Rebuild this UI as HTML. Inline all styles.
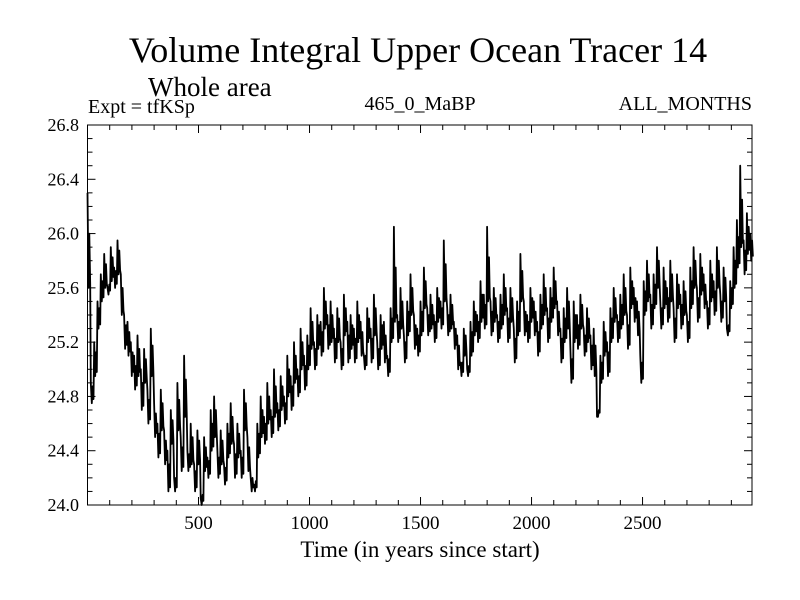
<!DOCTYPE html>
<html><head><meta charset="utf-8"><style>
body{margin:0;background:#fff}
svg{display:block;font-family:"Liberation Serif",serif}
</style></head><body>
<svg id="chart" width="800" height="600" viewBox="0 0 800 600">
<text x="418" y="62" font-size="36" text-anchor="middle">Volume Integral Upper Ocean Tracer 14</text>
<text x="148" y="96" font-size="27">Whole area</text>
<text x="88" y="113" font-size="20">Expt = tfKSp</text>
<text x="420" y="110" font-size="20" text-anchor="middle">465_0_MaBP</text>
<text x="752" y="110" font-size="20" text-anchor="end">ALL_MONTHS</text>
<text x="420" y="557" font-size="23" text-anchor="middle">Time (in years since start)</text>
<g id="axes"></g>
<path id="series" fill="none" stroke="#000" stroke-width="1.8" stroke-linejoin="round"/>
<rect x="87.5" y="125" width="664.5" height="380" fill="none" stroke="#000" stroke-width="1"/>
</svg>
<script>
const yTicks=[24.0,24.4,24.8,25.2,25.6,26.0,26.4,26.8];
const xTicks=[500,1000,1500,2000,2500];
const step=15;
const values=[
26.3,24.9,25.2,25.5,25.7,25.85,25.6,25.9,25.75,25.95,
25.7,25.4,25.35,25.2,25.1,25.25,25.0,25.15,24.85,25.3,
24.75,24.6,24.85,24.55,24.4,24.7,24.2,24.9,24.5,25.1,
24.4,24.6,24.3,24.55,24.05,24.5,24.35,24.7,24.8,24.4,
24.55,24.3,24.6,24.75,24.45,24.6,24.4,24.85,24.5,24.2,
24.15,24.6,24.8,24.65,24.9,24.7,25.0,24.75,24.95,24.8,
25.1,24.95,25.2,25.0,25.3,25.1,25.25,25.45,25.2,25.4,
25.35,25.6,25.4,25.5,25.3,25.45,25.2,25.55,25.35,25.4,
25.3,25.5,25.35,25.1,25.45,25.3,25.55,25.2,25.4,25.35,
25.1,25.45,26.05,25.4,25.6,25.25,25.5,25.7,25.4,25.3,
25.5,25.75,25.45,25.55,25.4,25.6,25.5,25.95,25.45,25.55,
25.35,25.25,25.05,25.3,25.0,25.35,25.5,25.4,25.65,25.55,
26.05,25.5,25.6,25.4,25.55,25.7,25.45,25.6,25.3,25.5,
25.85,25.5,25.4,25.6,25.5,25.35,25.55,25.7,25.45,25.6,
25.75,25.5,25.3,25.45,25.6,25.15,25.5,25.4,25.55,25.3,
25.45,25.25,25.3,24.65,25.1,25.35,25.2,25.45,25.6,25.4,
25.55,25.7,25.4,25.75,25.6,25.5,25.1,25.65,25.8,25.55,
25.7,25.9,25.5,25.75,25.6,25.8,25.45,25.7,25.55,25.65,
25.4,25.75,25.9,25.6,25.85,25.7,25.5,25.8,25.65,25.9,
25.55,25.75,25.3,25.65,25.9,26.1,26.5,25.95,26.15,26.0];
const lows=[
25.6,24.75,24.95,25.3,25.5,25.6,25.55,25.65,25.6,25.7,
25.4,25.15,25.1,24.95,24.85,24.95,24.7,24.9,24.6,24.95,
24.5,24.35,24.55,24.3,24.1,24.45,24.1,24.55,24.25,24.65,
24.25,24.3,24.1,24.3,24.0,24.25,24.2,24.4,24.5,24.2,
24.3,24.15,24.35,24.45,24.2,24.35,24.2,24.55,24.25,24.1,
24.1,24.35,24.5,24.45,24.6,24.5,24.65,24.55,24.7,24.6,
24.8,24.7,24.9,24.8,25.0,24.85,25.0,25.15,25.0,25.15,
25.1,25.3,25.15,25.2,25.05,25.2,25.0,25.25,25.05,25.15,
25.05,25.2,25.1,25.0,25.2,25.05,25.25,25.0,25.15,25.05,
24.95,25.2,25.35,25.2,25.3,25.05,25.25,25.4,25.15,25.1,
25.25,25.45,25.25,25.3,25.2,25.35,25.3,25.5,25.25,25.3,
25.15,25.0,24.95,25.1,24.95,25.1,25.25,25.2,25.35,25.3,
25.5,25.25,25.35,25.2,25.3,25.4,25.2,25.35,25.05,25.25,
25.5,25.25,25.2,25.35,25.25,25.1,25.3,25.4,25.2,25.35,
25.45,25.25,25.05,25.2,25.3,24.9,25.2,25.15,25.3,25.1,
25.2,25.0,24.95,24.65,24.9,25.1,24.95,25.2,25.35,25.2,
25.3,25.4,25.15,25.45,25.35,25.25,24.9,25.4,25.5,25.3,
25.45,25.6,25.3,25.45,25.35,25.5,25.2,25.45,25.3,25.4,
25.2,25.45,25.6,25.35,25.55,25.45,25.3,25.5,25.4,25.6,
25.35,25.5,25.25,25.45,25.6,25.75,25.9,25.7,25.85,25.8];
const X0=87.5,X1=752,Y0=505,Y1=125,xmin=0,xmax=2993,ymin=24.0,ymax=26.8;
const xs=v=>X0+(v-xmin)/(xmax-xmin)*(X1-X0);
const ys=v=>Y0-(v-ymin)/(ymax-ymin)*(Y0-Y1);
const NS='http://www.w3.org/2000/svg';
const ax=document.getElementById('axes');
function ln(x1,y1,x2,y2,name){const l=document.createElementNS(NS,'line');
l.setAttribute('x1',x1);l.setAttribute('y1',y1);l.setAttribute('x2',x2);l.setAttribute('y2',y2);
l.setAttribute('stroke','#000');l.setAttribute('stroke-width','1');


ax.appendChild(l);}
for(let k=0;k<=28;k++){const v=24+k*0.1;const y=ys(v);const major=k%4===0;
ln(X0,y,X0+(major?8:5),y,'y-tick');ln(X1,y,X1-(major?8:5),y,'y-tick');}
for(let v=100;v<xmax;v+=100){const x=xs(v);const major=v%500===0;
ln(x,Y0,x,Y0-(major?8:5),'x-tick');ln(x,Y1,x,Y1+(major?8:5),'x-tick');}
yTicks.forEach(v=>{const t=document.createElementNS(NS,'text');
t.setAttribute('x',79);t.setAttribute('y',ys(v)+6);t.setAttribute('font-size','18');t.setAttribute('text-anchor','end');
t.textContent=v.toFixed(1);


ax.appendChild(t);});
xTicks.forEach(v=>{const t=document.createElementNS(NS,'text');
t.setAttribute('x',xs(v));t.setAttribute('y',529);t.setAttribute('font-size','19');t.setAttribute('text-anchor','middle');
t.textContent=v;


ax.appendChild(t);});
let d='';values.forEach((v,i)=>{
 const x=i*step;
 d+=(i?'L':'M')+xs(x).toFixed(1)+' '+ys(v).toFixed(1);
 d+='L'+xs(x+step*0.3).toFixed(1)+' '+ys(lows[i]).toFixed(1);
 d+='L'+xs(x+step*0.55).toFixed(1)+' '+ys((v+lows[i])/2+0.05).toFixed(1);
 d+='L'+xs(x+step*0.8).toFixed(1)+' '+ys(lows[i]+0.03).toFixed(1);
});
document.getElementById('series').setAttribute('d',d);
</script>
</body></html>
